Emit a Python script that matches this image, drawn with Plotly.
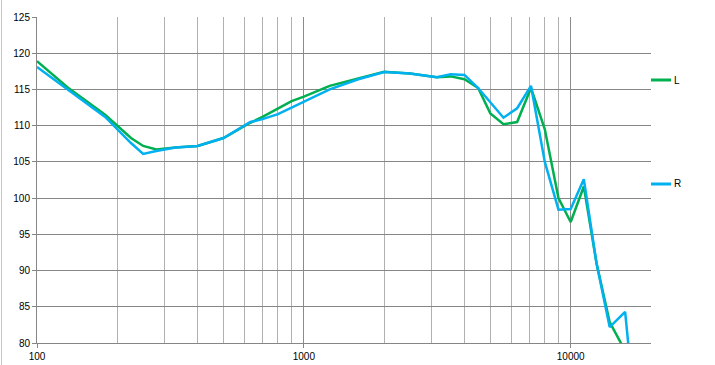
import plotly.graph_objects as go

freq = [100, 130, 180, 225, 250, 280, 330, 400, 500, 630, 700, 800, 900, 1000,
        1250, 1600, 2000, 2500, 3150, 3550, 4000, 4500, 5000, 5600, 6300, 7100,
        8000, 9000, 10000, 11200, 12500, 14000, 16000, 18000]
left = [118.9, 115.3, 111.5, 108.3, 107.2, 106.7, 107.0, 107.2, 108.3, 110.4, 111.2, 112.4, 113.4, 114.0,
        115.5, 116.5, 117.45, 117.2, 116.7, 116.8, 116.4, 115.2, 111.7, 110.2, 110.5, 115.2,
        109.5, 100.0, 96.7, 101.6, 91.0, 82.9, 78.9, 70.0]
right = [118.1, 115.0, 111.2, 107.6, 106.1, 106.5, 107.0, 107.2, 108.3, 110.5, 110.9, 111.6, 112.5, 113.3,
         115.0, 116.4, 117.4, 117.2, 116.7, 117.1, 117.0, 115.2, 113.2, 111.1, 112.4, 115.5,
         105.0, 98.4, 98.5, 102.6, 91.0, 82.2, 84.3, 65.0]
series_names = ["L", "R"]
series_colors = ["#00B050", "#00B0F0"]
x_major = [100, 1000, 10000]
x_minor = [200, 300, 400, 500, 600, 700, 800, 900,
           2000, 3000, 4000, 5000, 6000, 7000, 8000, 9000, 20000]

fig = go.Figure()
for name, vals, col in zip(series_names, [left, right], series_colors):
    fig.add_trace(go.Scatter(x=freq, y=vals, mode="lines", name=name,
                             line=dict(color=col, width=2.5), showlegend=False,
                             cliponaxis=True))

fig.update_layout(
    width=715, height=365,
    margin=dict(l=37, r=64, t=17, b=22, autoexpand=False),
    paper_bgcolor="white", plot_bgcolor="white",
    font=dict(family="Liberation Sans, Arial, sans-serif", size=10, color="#000000"),
)
fig.update_xaxes(
    type="log", range=[2, 4.30103], automargin=False,
    tickvals=x_major, ticktext=[str(v) for v in x_major],
    showgrid=True, gridcolor="#8c8c8c", gridwidth=1,
    showline=True, linecolor="#868686", linewidth=1,
    ticks="outside", ticklen=4, tickcolor="#868686",
    minor=dict(tickvals=x_minor, showgrid=True, gridcolor="#b0b0b0", gridwidth=1, ticks=""),
    zeroline=False, tickfont=dict(size=10),
)
fig.update_yaxes(
    range=[80, 125], dtick=5, tick0=80, automargin=False,
    showgrid=True, gridcolor="#868686", gridwidth=1,
    showline=True, linecolor="#868686", linewidth=1,
    ticks="outside", ticklen=4, tickcolor="#868686",
    zeroline=False, tickfont=dict(size=10),
)

# legend drawn at right like the original
leg_y = [(343 - 80) / 326, (343 - 184) / 326]
for name, col, yy in zip(series_names, series_colors, leg_y):
    fig.add_shape(type="line", xref="paper", yref="paper",
                  x0=1.0, x1=(671 - 37) / 614, y0=yy, y1=yy,
                  line=dict(color=col, width=3))
    fig.add_annotation(xref="paper", yref="paper", x=(672 - 37) / 614, y=yy,
                       text=name, showarrow=False, xanchor="left", yanchor="middle",
                       font=dict(size=10, color="#000000"))

# faint chart border at left edge
fig.add_shape(type="line", xref="paper", yref="paper",
              x0=(1.5 - 37) / 614, x1=(1.5 - 37) / 614, y0=-22 / 326, y1=1 + 17 / 326,
              line=dict(color="#c8c8c8", width=1))

fig.write_html("out.html", config={"displayModeBar": False},
               post_script="document.body.style.margin='0';document.body.style.overflow='hidden';")
